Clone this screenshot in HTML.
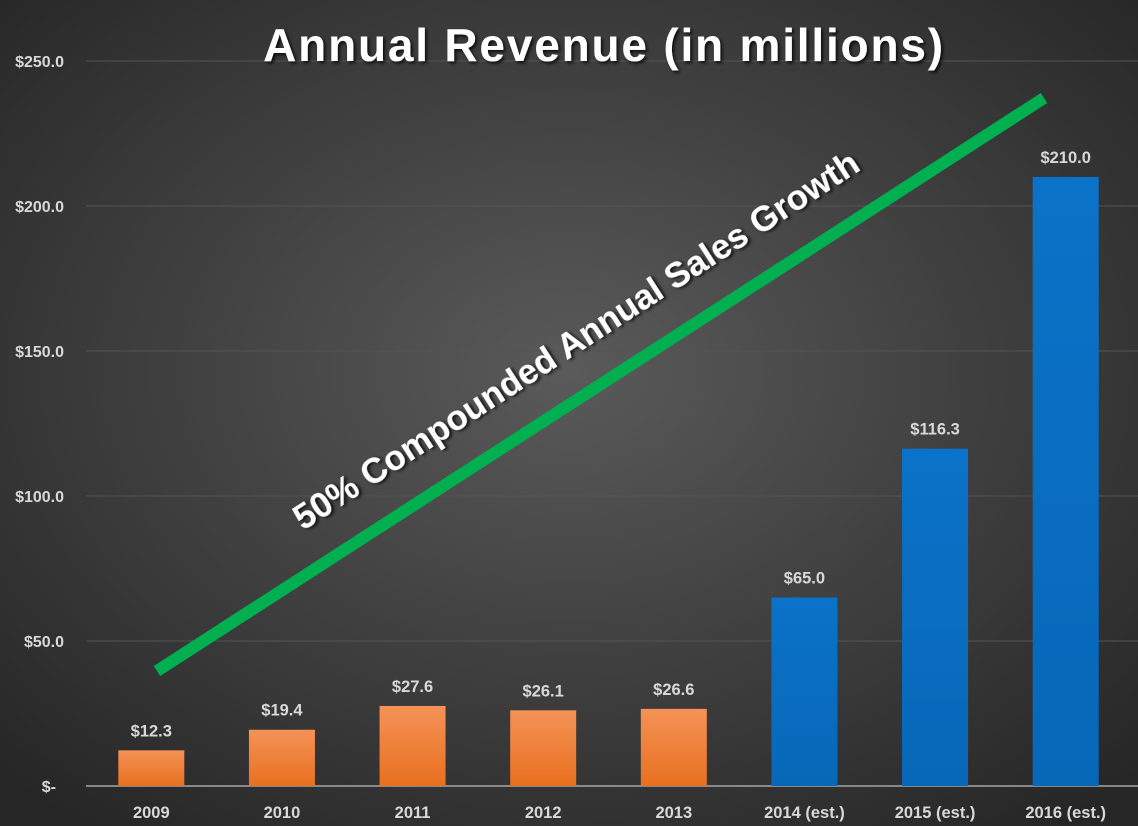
<!DOCTYPE html>
<html><head><meta charset="utf-8"><style>
html,body{margin:0;padding:0;width:1138px;height:826px;overflow:hidden;background:#2b2b2b}
svg{display:block;font-family:"Liberation Sans",sans-serif}
</style></head><body>
<svg id="chart" width="1138" height="826" viewBox="0 0 1138 826">
<defs>
<radialGradient id="bg" cx="0.5" cy="0.45" r="0.7">
<stop offset="0" stop-color="#5a5a5a"/><stop offset="1" stop-color="#262626"/>
</radialGradient>
<linearGradient id="og" x1="0" y1="0" x2="0" y2="1">
<stop offset="0" stop-color="#f59257"/><stop offset="1" stop-color="#e8701e"/>
</linearGradient>
<linearGradient id="bl" x1="0" y1="0" x2="0" y2="1">
<stop offset="0" stop-color="#0a72c8"/><stop offset="1" stop-color="#0868b8"/>
</linearGradient>
<filter id="sh" x="-10%" y="-10%" width="120%" height="130%"><feDropShadow dx="2" dy="2" stdDeviation="1.5" flood-color="#000" flood-opacity="0.8"/></filter>
</defs>
<rect width="1138" height="826" fill="url(#bg)"/>
<g id="grid"></g><g id="bars"></g><g id="labels"></g>
<line x1="157" y1="671" x2="1044" y2="98" stroke="#00b050" stroke-width="12"/>
<text transform="translate(303,531) rotate(-32.9)" font-size="35" font-weight="bold" fill="#fff" filter="url(#sh)">50% Compounded Annual Sales Growth</text>
<text x="604" y="61" text-anchor="middle" font-size="46" font-weight="bold" letter-spacing="1.8" fill="#fff" filter="url(#sh)">Annual Revenue (in millions)</text>
</svg>
<script>
const categories=["2009","2010","2011","2012","2013","2014 (est.)","2015 (est.)","2016 (est.)"];
const values=[12.3,19.4,27.6,26.1,26.6,65.0,116.3,210.0];
const estimated=[false,false,false,false,false,true,true,true];
const yTicks=[0,50,100,150,200,250];
const yTickLabels=["$-","$50.0","$100.0","$150.0","$200.0","$250.0"];
const valueLabels=["$12.3","$19.4","$27.6","$26.1","$26.6","$65.0","$116.3","$210.0"];
const ns="http://www.w3.org/2000/svg";
const left=86,right=1131,y0=786,pxPer=2.9;
const band=(right-left)/categories.length;
const y=v=>y0-v*pxPer;
const xc=i=>left+band*(i+0.5);
function mk(t,a,p){const e=document.createElementNS(ns,t);for(const k in a)e.setAttribute(k,a[k]);p.appendChild(e);return e;}
const grid=document.getElementById('grid'),bars=document.getElementById('bars'),labels=document.getElementById('labels');
yTicks.forEach((t,i)=>{
 const l=mk('line',{x1:left,x2:1138,y1:y(t),y2:y(t),stroke:t===0?'#a6a6a6':'#545454','stroke-width':t===0?1.5:1},grid);
 
 
 const tx=mk('text',{x:t===0?56:64,y:y(t)+6,'text-anchor':'end','font-size':16,'font-weight':'bold',fill:'#d9d9d9'},labels);
 tx.textContent=yTickLabels[i];
 
 
});
values.forEach((v,i)=>{
 const w=66;
 const r=mk('rect',{x:xc(i)-w/2,y:y(v),width:w,height:v*pxPer,fill:estimated[i]?'url(#bl)':'url(#og)'},bars);
 
 
 const vl=mk('text',{x:xc(i),y:y(v)-14,'text-anchor':'middle','font-size':16.5,'font-weight':'bold',fill:'#d9d9d9'},labels);
 vl.textContent=valueLabels[i];
 
 
 const cl=mk('text',{x:xc(i),y:818,'text-anchor':'middle','font-size':16.5,'font-weight':'bold',fill:'#d9d9d9'},labels);
 cl.textContent=categories[i];
 
 
});
</script>
</body></html>
